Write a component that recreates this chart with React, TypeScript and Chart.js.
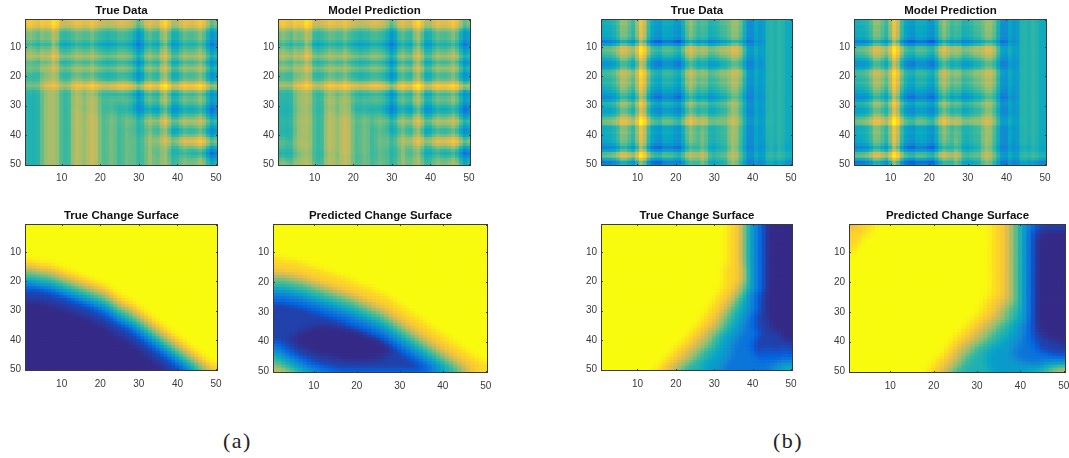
import React, { useEffect, useRef } from "react";
import { Chart, registerables } from "chart.js";

Chart.register(...registerables);

const CELLS = Array.from({ length: 50 }, (_, i) => String(i + 1));
const TICKS = [10, 20, 30, 40, 50];
const PARULA = ["#352a87", "#0363e1", "#1485d4", "#06a7c6", "#38b99e", "#92bf73", "#d9ba56", "#fcce2e", "#f9fb0e"];
const LEVELS = [0, 0.05, 0.19, 0.33, 0.44, 0.55, 0.67, 0.78, 0.89, 1];

// Change surfaces, one run-length row per image row: level x count.
const TRUE_SURFACE_A = [
  "9x50","9x50","9x50","9x50","9x50","9x50","9x50","9x50","9x50","9x50","9x50","9x50",
  "8x3 9x47","8x7 9x43","7x3 8x6 9x41","6x3 7x4 8x4 9x39","5x3 6x4 7x2 8x4 9x37","5x7 6x2 7x2 8x4 9x35",
  "4x5 5x4 6x2 7x2 8x4 9x33","3x3 4x5 5x3 6x2 7x2 8x4 9x31","2x3 3x4 4x3 5x3 6x2 7x2 8x4 9x29",
  "2x7 3x2 4x3 5x3 6x2 7x2 8x3 9x28","1x5 2x4 3x2 4x3 5x3 6x2 7x2 8x2 9x27","1x8 2x3 3x2 4x3 5x3 6x2 7x1 8x2 9x26",
  "1x10 2x3 3x2 4x3 5x3 6x1 7x1 8x2 9x25","1x12 2x3 3x2 4x2 5x3 6x1 7x1 8x3 9x23","0x5 1x9 2x3 3x2 4x2 5x2 6x1 7x1 8x3 9x22",
  "0x8 1x8 2x3 3x2 4x1 5x2 6x1 7x1 8x3 9x21","0x10 1x8 2x3 3x1 4x1 5x2 6x2 7x1 8x2 9x20","0x12 1x7 2x3 3x1 4x1 5x3 6x1 7x1 8x2 9x19",
  "0x14 1x7 2x2 3x1 4x2 5x2 6x1 7x1 8x2 9x18","0x16 1x6 2x2 3x1 4x2 5x2 6x1 7x1 8x2 9x17","0x18 1x5 2x2 3x1 4x2 5x2 6x1 7x1 8x2 9x16",
  "0x19 1x5 2x2 3x2 4x1 5x2 6x1 7x1 8x2 9x15","0x21 1x5 2x2 3x1 4x1 5x2 6x1 7x1 8x2 9x14","0x22 1x5 2x2 3x1 4x1 5x2 6x1 7x1 8x2 9x13",
  "0x23 1x5 2x2 3x1 4x1 5x2 6x1 7x1 8x2 9x12","0x24 1x5 2x2 3x1 4x1 5x2 6x1 7x1 8x2 9x11","0x26 1x4 2x2 3x1 4x1 5x2 6x1 7x1 8x2 9x10",
  "0x27 1x4 2x2 3x1 4x1 5x2 6x1 7x1 8x2 9x9","0x28 1x4 2x2 3x1 4x1 5x2 6x1 7x1 8x2 9x8","0x29 1x4 2x2 3x1 4x1 5x2 6x1 7x1 8x2 9x7",
  "0x30 1x4 2x2 3x1 4x1 5x2 6x1 7x1 8x2 9x6","0x31 1x4 2x2 3x1 4x1 5x2 6x1 7x1 8x2 9x5","0x32 1x4 2x2 3x1 4x1 5x2 6x1 7x1 8x2 9x4",
  "0x33 1x4 2x2 3x1 4x1 5x2 6x1 7x1 8x2 9x3","0x34 1x4 2x2 3x1 4x1 5x2 6x1 7x1 8x2 9x2","0x35 1x4 2x2 3x1 4x1 5x2 6x1 7x1 8x2 9x1",
  "0x36 1x4 2x2 3x1 4x1 5x2 6x1 7x1 8x2","0x37 1x4 2x2 3x1 4x1 5x2 6x1 7x1 8x1",
];

const PRED_SURFACE_A = [
  "9x50","9x50","9x50","9x50","9x50","9x50","9x50","9x50","9x50","9x50","9x50",
  "8x2 9x48","8x6 9x44","8x8 9x42","8x10 9x40","7x2 8x10 9x38","7x6 8x8 9x36","6x4 7x4 8x8 9x34","5x4 6x3 7x3 8x8 9x32",
  "5x7 6x2 7x3 8x7 9x31","4x4 5x5 6x2 7x3 8x7 9x29","4x7 5x4 6x2 7x3 8x7 9x27","3x4 4x5 5x4 6x2 7x3 8x6 9x26",
  "2x4 3x3 4x4 5x4 6x2 7x3 8x6 9x24","2x7 3x2 4x4 5x4 6x2 7x2 8x6 9x23","2x9 3x2 4x4 5x4 6x1 7x3 8x5 9x22",
  "1x4 2x7 3x2 4x4 5x3 6x2 7x2 8x5 9x21","1x7 2x6 3x2 4x4 5x3 6x1 7x3 8x4 9x20","1x9 2x6 3x2 4x3 5x3 6x2 7x2 8x4 9x19",
  "1x11 2x6 3x2 4x3 5x3 6x1 7x2 8x4 9x18","1x13 2x6 3x1 4x3 5x3 6x1 7x2 8x4 9x17","1x15 2x5 3x2 4x3 5x2 6x1 7x2 8x4 9x16",
  "1x17 2x5 3x1 4x3 5x2 6x1 7x2 8x4 9x15","1x18 2x5 3x2 4x2 5x2 6x1 7x2 8x4 9x14","1x9 0x6 1x5 2x5 3x1 4x2 5x2 6x1 7x2 8x4 9x13",
  "1x7 0x12 1x3 2x4 3x1 4x2 5x2 6x1 7x2 8x4 9x12","1x6 0x15 1x2 2x4 3x1 4x2 5x2 6x1 7x2 8x4 9x11","1x5 0x18 1x2 2x3 3x1 4x2 5x2 6x1 7x2 8x4 9x10",
  "1x4 0x21 1x1 2x3 3x1 4x2 5x2 6x1 7x2 8x4 9x9","2x1 1x4 0x21 1x1 2x3 3x1 4x2 5x2 6x1 7x2 8x4 9x8","2x2 1x4 0x21 1x1 2x3 3x1 4x2 5x2 6x1 7x2 8x4 9x7",
  "2x3 1x4 0x21 1x1 2x3 3x1 4x2 5x2 6x1 7x2 8x4 9x6","3x1 2x3 1x4 0x20 1x2 2x3 3x1 4x2 5x2 6x1 7x2 8x4 9x5",
  "4x1 3x1 2x3 1x5 0x16 1x5 2x3 3x1 4x2 5x2 6x1 7x2 8x4 9x4","4x2 3x1 2x3 1x7 0x13 1x6 2x3 3x1 4x2 5x2 6x1 7x2 8x4 9x3",
  "5x1 4x2 3x2 2x3 1x8 0x8 1x9 2x3 3x1 4x2 5x2 6x1 7x2 8x4 9x2","5x2 4x2 3x2 2x3 1x25 2x3 3x1 4x2 5x2 6x1 7x2 8x4 9x1",
  "6x1 5x2 4x2 3x2 2x4 1x24 2x3 3x1 4x2 5x2 6x1 7x2 8x4","6x2 5x2 4x2 3x2 2x6 1x22 2x3 3x1 4x2 5x2 6x1 7x2 8x3",
  "7x3 6x2 5x2 4x2 3x2 2x26 3x2 4x3 5x2 6x1 7x1 8x3 9x1",
];

const TRUE_SURFACE_B = [
  "9x33 8x3 7x1 5x1 4x1 3x1 2x2 1x1 0x7","9x33 8x3 7x1 5x1 4x1 3x1 2x2 1x1 0x7","9x33 8x3 7x1 5x1 4x1 3x1 2x2 1x1 0x7",
  "9x33 8x3 7x1 5x1 4x1 3x1 2x2 1x1 0x7","9x33 8x3 7x1 5x1 4x1 3x1 2x2 1x1 0x7","9x33 8x3 7x1 5x1 4x1 3x1 2x2 1x1 0x7",
  "9x33 8x3 7x1 5x1 4x1 3x1 2x2 1x1 0x7","9x33 8x3 7x1 5x1 4x1 3x1 2x2 1x1 0x7","9x33 8x3 7x1 5x1 4x1 3x1 2x2 1x1 0x7",
  "9x33 8x3 7x1 5x1 4x1 3x1 2x2 1x1 0x7","9x33 8x3 7x1 5x1 4x1 3x1 2x2 1x1 0x7","9x33 8x3 7x1 5x1 4x1 3x1 2x2 1x1 0x7",
  "9x33 8x3 7x1 5x1 4x1 3x1 2x2 1x1 0x7","9x33 8x3 7x1 5x1 4x1 3x1 2x2 1x1 0x7",
  "9x32 8x4 7x1 6x1 4x1 3x1 2x2 1x1 0x7","9x32 8x4 7x1 6x1 4x1 3x1 2x2 1x1 0x7","9x32 8x4 7x1 6x1 4x1 3x1 2x2 1x1 0x7",
  "9x32 8x4 7x1 6x1 4x1 3x1 2x2 1x1 0x7","9x32 8x4 7x1 6x1 4x1 3x1 2x2 1x1 0x7","9x32 8x4 7x1 6x1 4x1 3x1 2x2 1x1 0x7",
  "9x32 8x3 7x1 6x1 5x1 4x1 3x1 2x2 1x1 0x7","9x32 8x3 7x1 6x1 5x1 4x1 3x1 2x2 1x1 0x7","9x31 8x3 7x2 6x1 5x1 4x1 3x1 2x2 1x1 0x7",
  "9x31 8x3 7x1 6x1 5x1 4x1 3x1 2x2 1x2 0x7","9x30 8x3 7x2 6x1 5x1 4x1 3x1 2x2 1x2 0x7","9x30 8x3 7x1 6x1 5x1 4x2 3x1 2x2 1x2 0x7",
  "9x29 8x3 7x2 6x1 5x1 4x2 3x1 2x2 1x2 0x7","9x29 8x3 7x1 6x1 5x2 4x1 3x2 2x2 1x2 0x7","9x28 8x3 7x2 6x1 5x1 4x2 3x2 2x2 1x2 0x7",
  "9x28 8x3 7x1 6x1 5x2 4x2 3x2 2x2 1x2 0x7","9x27 8x3 7x2 6x1 5x1 4x2 3x2 2x2 1x3 0x7","9x27 8x3 7x1 6x1 5x2 4x2 3x2 2x2 1x3 0x7",
  "9x26 8x3 7x2 6x1 5x2 4x2 3x2 2x2 1x3 0x7","9x26 8x3 7x1 6x2 5x1 4x2 3x2 2x3 1x4 0x6","9x25 8x3 7x2 6x1 5x2 4x2 3x2 2x3 1x4 0x6",
  "9x24 8x3 7x2 6x2 5x1 4x2 3x3 2x3 1x4 0x6","9x24 8x2 7x2 6x2 5x2 4x2 3x3 2x4 1x5 0x4","9x23 8x3 7x2 6x1 5x2 4x2 3x3 2x5 1x6 0x3",
  "9x22 8x3 7x2 6x2 5x1 4x2 3x3 2x5 1x7 0x3","9x22 8x2 7x2 6x2 5x2 4x2 3x3 2x5 1x8 0x2","9x21 8x3 7x2 6x2 5x2 4x2 3x3 2x5 1x10",
  "9x20 8x3 7x2 6x2 5x2 4x2 3x3 2x5 1x11","9x19 8x3 7x2 6x2 5x2 4x3 3x3 2x6 1x3 2x1 1x3 2x1 1x2","9x19 8x2 7x2 6x2 5x2 4x3 3x4 2x6 1x2 2x1 1x2 2x1 1x2 2x1 1x1",
  "9x18 8x3 7x2 6x2 5x2 4x3 3x4 2x7 1x2 2x1 1x1 2x1 1x2 2x1 1x1","9x17 8x3 7x2 6x2 5x2 4x3 3x4 2x8 1x1 2x1 1x1 2x1 1x1 2x1 2x3","9x16 8x3 7x2 6x2 5x2 4x3 3x5 2x14",
  "9x16 8x2 7x2 6x2 5x2 4x3 3x5 2x14 3x4","9x15 8x2 7x2 6x2 5x2 4x4 3x5 2x13 3x3 4x2","9x14 8x3 7x2 6x1 5x2 4x5 3x4 2x13 3x4 4x2",
];

const PRED_SURFACE_B = [
  "7x2 8x4 9x27 8x3 7x1 6x1 5x1 4x1 3x1 2x2 1x7","7x1 8x4 9x28 8x3 7x1 6x1 5x1 4x1 3x1 2x2 1x7","8x5 9x28 8x3 7x1 6x1 5x1 4x1 3x1 2x1 1x2 0x6",
  "8x4 9x29 8x3 7x1 6x1 5x1 4x1 3x1 2x1 1x2 0x6","8x3 9x30 8x3 7x1 6x1 5x1 4x1 3x1 2x1 1x1 0x7","8x3 9x30 8x3 7x1 6x1 5x1 4x1 3x1 2x1 1x1 0x7",
  "8x2 9x31 8x3 7x1 6x1 5x1 4x1 3x1 2x1 1x1 0x7","8x2 9x31 8x3 7x1 6x1 5x1 4x1 3x1 2x1 1x1 0x7","8x1 9x32 8x3 7x1 6x1 5x1 4x1 3x1 2x1 1x1 0x7",
  "8x1 9x32 8x3 7x1 6x1 5x1 4x1 3x1 2x1 1x1 0x7","9x33 8x3 7x1 6x1 5x1 4x1 3x1 2x1 1x1 0x7","9x33 8x3 7x1 6x1 5x1 4x1 3x1 2x1 1x1 0x7",
  "9x33 8x3 7x1 6x1 5x1 4x1 3x1 2x1 1x1 0x7","9x33 8x3 7x1 6x1 5x1 4x1 3x1 2x1 1x1 0x7","9x33 8x3 7x1 6x1 5x1 4x1 3x1 2x1 1x1 0x7",
  "9x33 8x3 7x1 6x1 5x1 4x1 3x1 2x1 1x1 0x7","9x33 8x3 7x1 6x1 5x1 4x1 3x1 2x1 1x1 0x7","9x33 8x3 7x1 6x1 5x1 4x1 3x1 2x1 1x1 0x7",
  "9x33 8x3 7x1 6x1 5x1 4x1 3x1 2x1 1x1 0x7","9x33 8x3 7x1 6x1 5x1 4x1 3x1 2x1 1x1 0x7","9x33 8x3 7x1 6x1 5x1 4x1 3x1 2x1 1x1 0x7",
  "9x33 8x3 7x1 6x1 5x1 4x1 3x1 2x1 1x1 0x7","9x33 8x3 7x1 6x1 5x1 4x1 3x1 2x1 1x1 0x7","9x33 8x3 7x1 6x1 5x1 4x1 3x1 2x1 1x1 0x7",
  "9x32 8x3 7x2 6x1 5x1 4x1 3x1 2x1 1x1 0x7","9x32 8x3 7x2 6x1 5x1 4x1 3x1 2x1 1x1 0x7","9x31 8x3 7x2 6x1 5x2 4x1 3x1 2x1 1x1 0x7",
  "9x31 8x3 7x2 6x1 5x2 4x1 3x1 2x1 1x1 0x7","9x31 8x3 7x1 6x1 5x2 4x2 3x1 2x1 1x1 0x7","9x30 8x3 7x2 6x1 5x2 4x2 3x1 2x1 1x1 0x7",
  "9x30 8x3 7x1 6x2 5x2 4x2 3x1 2x1 1x1 0x7","9x29 8x3 7x2 6x2 5x2 4x1 3x2 2x1 1x1 0x7","9x28 8x3 7x2 6x2 5x2 4x2 3x2 2x1 1x1 0x7",
  "9x28 8x2 7x2 6x2 5x2 4x2 3x2 2x2 1x1 0x7","9x27 8x3 7x2 6x2 5x2 4x2 3x2 2x2 1x1 0x7","9x26 8x3 7x2 6x2 5x2 4x3 3x2 2x2 1x2 0x6",
  "9x26 8x2 7x2 6x2 5x2 4x3 3x3 2x2 1x2 0x6","9x25 8x3 7x2 6x2 5x2 4x3 3x3 2x2 1x3 0x5","9x24 8x3 7x2 6x2 5x2 4x3 3x3 2x3 1x4 0x4",
  "9x24 8x2 7x2 6x2 5x2 4x3 3x4 2x4 1x5 0x2","9x23 8x2 7x2 6x2 5x3 4x3 3x4 2x4 1x6 0x1","9x23 8x2 7x1 6x2 5x2 4x3 3x5 2x5 1x7",
  "9x22 8x2 7x2 6x2 5x2 4x3 3x5 2x6 1x6","9x22 8x2 7x1 6x2 5x2 4x3 3x6 2x8 1x4","9x21 8x2 7x2 6x1 5x2 4x4 3x6 2x12",
  "9x20 8x3 7x2 6x1 5x2 4x4 3x7 2x11","9x20 8x2 7x2 6x1 5x2 4x5 3x9 2x4 3x5","9x19 8x3 7x1 6x2 5x2 4x5 3x13 4x3 5x2",
  "9x19 8x2 7x2 6x1 5x2 4x7 3x10 4x3 5x2 6x2","9x18 8x2 7x2 6x1 5x2 4x8 3x8 4x4 5x2 6x3",
];

// Data panels: column and row profiles read for each region of the surface.
const COLS_A_HIGH = [.05,.1,.05,0,.1,.05,.05,.2,.12,-.05,-.05,-.03,0,.05,.03,0,0,.08,0,-.03,-.05,-.08,-.05,-.05,0,0,-.02,-.05,-.1,-.25,-.15,0,.03,-.03,-.07,.08,.17,.02,-.13,-.1,-.02,.05,0,0,.02,.1,.02,-.1,-.25,-.15];
const ROWS_A_HIGH = [.2,.2,.17,.02,-.05,-.05,-.03,-.08,-.17,-.07,-.03,0,.1,.02,-.1,-.02,.08,.02,-.08,-.05,-.03,.12,.3,.22,0,-.1,-.02,0,-.05,-.12,-.18,-.15,-.05,0,.13,.05,-.02,-.1,-.08,0,.15,.22,.15,0,-.1,-.2,-.12,-.02,.02,.05];
const COLS_A_LOW = [-.12,-.12,-.13,-.12,0,.07,.1,.1,.07,-.05,-.08,-.08,.08,.14,.12,.03,.13,.16,.14,.02,-.05,-.02,.03,0,-.08,-.04,.02,-.02,0,-.1,-.05,0,.1,0,0,.05,.1,0,-.1,-.05,0,.05,0,0,0,.1,0,-.1,-.2,0];
const ROWS_A_LOW = [0,0,0,0,0,0,0,0,0,0,0,0,0,0,0,0,0,0,0,0,.02,.05,.12,.05,0,0,0,0,0,0,0,0,0,0,0,0,0,0,0,0,0,0,0,0,0,0,0,0,0,0];
const COLS_B_HIGH = [-.1,-.08,-.08,-.05,0,.12,.1,.05,-.05,.1,.32,.2,-.02,-.12,-.15,-.18,-.08,-.1,-.1,-.15,-.2,-.08,.05,.13,.05,-.02,.03,.02,-.08,-.05,-.03,.02,.02,.05,.12,.12,.08,-.05,-.2,-.2,-.1,-.2,-.18,-.05,-.05,-.1,-.03,-.07,-.12,-.12];
const ROWS_B_HIGH = [-.02,0,-.04,-.02,-.05,-.03,-.05,-.25,-.08,.12,.12,.08,.03,-.03,-.12,-.12,-.08,.08,.08,.05,0,.06,0,-.02,-.05,-.1,-.17,-.08,.05,-.02,-.08,-.07,-.02,.1,.14,.16,-.07,-.03,0,-.05,-.03,-.05,-.08,-.2,-.1,.1,.15,-.02,-.25,-.15];
const COLS_B_LOW = [-.05,-.04,-.04,-.03,0,.06,.05,.03,-.03,.05,.15,.1,-.01,-.06,-.08,-.09,-.04,-.05,-.05,-.08,-.1,-.04,.03,.07,.08,.1,.25,.1,-.05,-.1,-.05,-.05,-.05,.1,.15,.1,-.03,-.12,-.25,-.25,-.1,-.2,-.18,-.05,-.05,-.1,-.03,-.07,-.12,-.12];
const ROWS_B_LOW = [0,0,0,0,0,0,0,0,0,0,0,0,0,0,0,0,0,0,0,0,0,0,0,0,0,0,0,0,0,0,0,0,0,0,0,0,0,0,0,0,0,0,0,0,0,0,0,0,0,0];

const parseRuns = (row: string, table: number[]): number[] => {
  const out: number[] = [];
  row.split(" ").forEach((run) => {
    const [level, count] = run.split("x").map(Number);
    for (let i = 0; i < count; i++) out.push(table[level]);
  });
  while (out.length < 50) out.push(out[out.length - 1]);
  return out.slice(0, 50);
};

// The source image was resampled, so neighbouring cells bleed together.
const soften = (g: number[][], centre: number): number[][] =>
  g.map((row, r) =>
    row.map((_, c) => {
      let sum = 0;
      let weight = 0;
      for (let dr = -1; dr <= 1; dr++) {
        for (let dc = -1; dc <= 1; dc++) {
          const rr = g[r + dr];
          if (!rr || rr[c + dc] === undefined) continue;
          const w = (dr === 0 ? centre : 1) * (dc === 0 ? centre : 1);
          sum += rr[c + dc] * w;
          weight += w;
        }
      }
      return sum / weight;
    })
  );

const UNIT = [0, 1, 2, 3, 4, 5, 6, 7, 8, 9].map((k) => k / 9);

const blendData = (base: number, gain: number, mask: string[], ch: number[], rh: number[], cl: number[], rl: number[]): number[][] =>
  soften(
    mask.map((row, r) =>
      parseRuns(row, UNIT).map((s, c) => base + gain * (s * (rh[r] + ch[c]) + (1 - s) * (rl[r] + cl[c])))
    ),
    5
  );

const surface = (rows: string[]): number[][] => soften(soften(rows.map((row) => parseRuns(row, LEVELS)), 2), 2);

const colorOf = (v: number): string => {
  const t = Math.min(1, Math.max(0, v)) * (PARULA.length - 1);
  const i = Math.min(PARULA.length - 2, Math.floor(t));
  const f = t - i;
  const hex = (h: string, k: number) => parseInt(h.slice(1 + k * 2, 3 + k * 2), 16);
  const ch = [0, 1, 2].map((k) => Math.round(hex(PARULA[i], k) * (1 - f) + hex(PARULA[i + 1], k) * f));
  return `rgb(${ch[0]},${ch[1]},${ch[2]})`;
};

const PANELS = [
  { title: "True Data", box: [25, 19, 218, 166], grid: () => blendData(0.57, 1, TRUE_SURFACE_A, COLS_A_HIGH, ROWS_A_HIGH, COLS_A_LOW, ROWS_A_LOW) },
  { title: "Model Prediction", box: [278, 19, 471, 166], grid: () => blendData(0.57, 1, PRED_SURFACE_A, COLS_A_HIGH, ROWS_A_HIGH, COLS_A_LOW, ROWS_A_LOW) },
  { title: "True Data", box: [601, 19, 793, 166], grid: () => blendData(0.53, 1.12, TRUE_SURFACE_B, COLS_B_HIGH, ROWS_B_HIGH, COLS_B_LOW, ROWS_B_LOW) },
  { title: "Model Prediction", box: [854, 19, 1047, 166], grid: () => blendData(0.53, 1.12, PRED_SURFACE_B, COLS_B_HIGH, ROWS_B_HIGH, COLS_B_LOW, ROWS_B_LOW) },
  { title: "True Change Surface", box: [25, 224, 218, 371], grid: () => surface(TRUE_SURFACE_A) },
  { title: "Predicted Change Surface", box: [273, 224, 488, 373], grid: () => surface(PRED_SURFACE_A) },
  { title: "True Change Surface", box: [601, 224, 793, 371], grid: () => surface(TRUE_SURFACE_B) },
  { title: "Predicted Change Surface", box: [849, 224, 1066, 373], grid: () => surface(PRED_SURFACE_B) },
];

const CAPTIONS = [
  { text: "(a)", x: 223 },
  { text: "(b)", x: 773 },
];

const PAD_LEFT = 26;
const PAD_TOP = 19;
const PAD_RIGHT = 14;
const PAD_BOTTOM = 20;
const AXIS_COLOR = "#3a3a3a";

const framePlugin = {
  id: "frame",
  afterDatasetsDraw(chart: any) {
    const { ctx, chartArea: a, scales } = chart;
    const len = 2;
    ctx.save();
    ctx.strokeStyle = AXIS_COLOR;
    ctx.lineWidth = 1;
    ctx.strokeRect(Math.round(a.left) + 0.5, Math.round(a.top) + 0.5, Math.round(a.width) - 1, Math.round(a.height) - 1);
    ctx.beginPath();
    scales.x.ticks.forEach((t: any) => {
      const x = Math.round(scales.x.getPixelForValue(t.value)) + 0.5;
      ctx.moveTo(x, a.top); ctx.lineTo(x, a.top + len);
      ctx.moveTo(x, a.bottom); ctx.lineTo(x, a.bottom - len);
    });
    scales.y.ticks.forEach((t: any) => {
      const y = Math.round(scales.y.getPixelForValue(t.value)) + 0.5;
      ctx.moveTo(a.left, y); ctx.lineTo(a.left + len, y);
      ctx.moveTo(a.right, y); ctx.lineTo(a.right - len, y);
    });
    ctx.stroke();
    ctx.restore();
  },
};

function Panel({ panel }: { panel: (typeof PANELS)[number] }) {
  const ref = useRef<HTMLCanvasElement>(null);
  const [l, t, r, b] = panel.box;
  useEffect(() => {
    const grid = panel.grid();
    const chart = new Chart(ref.current as HTMLCanvasElement, {
      type: "bar",
      data: {
        labels: CELLS,
        datasets: grid.map((row, i) => ({
          label: `row ${i + 1}`,
          data: row.map(() => [i + 0.5, i + 1.5]),
          backgroundColor: row.map(colorOf),
          borderWidth: 0,
          inflateAmount: 0.5,
          grouped: false,
          barPercentage: 1,
          categoryPercentage: 1,
        })),
      } as any,
      options: {
        animation: false,
        responsive: false,
        devicePixelRatio: 1,
        events: [],
        layout: { padding: { right: PAD_RIGHT } },
        plugins: {
          legend: { display: false },
          tooltip: { enabled: false },
          title: {
            display: true,
            text: panel.title,
            fullSize: false,
            color: "#111",
            font: { family: "'Liberation Sans'", size: 11.5, weight: "bold", lineHeight: 1.1 },
            padding: { top: 4.5, bottom: PAD_TOP - 4.5 - 11.5 * 1.1 },
          },
        },
        scales: {
          x: {
            type: "category",
            grid: { display: false, drawTicks: false },
            border: { display: false },
            afterBuildTicks: (s: any) => {
              s.ticks = s.ticks.filter((k: any) => TICKS.includes(k.value + 1));
            },
            afterFit: (s: any) => { s.height = PAD_BOTTOM; },
            ticks: { autoSkip: false, maxRotation: 0, padding: t > 200 ? 7 : 6, color: AXIS_COLOR, font: { family: "'Liberation Sans'", size: 10 } },
          },
          y: {
            type: "linear",
            reverse: true,
            min: 0.5,
            max: 50.5,
            grid: { display: false, drawTicks: false },
            border: { display: false },
            afterBuildTicks: (s: any) => { s.ticks = TICKS.map((value) => ({ value })); },
            afterFit: (s: any) => { s.width = PAD_LEFT; },
            ticks: { padding: 4, color: AXIS_COLOR, font: { family: "'Liberation Sans'", size: 10 }, callback: (v: any) => String(v) },
          },
        },
      } as any,
      plugins: [framePlugin],
    });
    return () => chart.destroy();
  }, [panel]);
  return (
    <canvas
      ref={ref}
      width={r - l + PAD_LEFT + PAD_RIGHT}
      height={b - t + PAD_TOP + PAD_BOTTOM}
      style={{ position: "absolute", left: l - PAD_LEFT, top: t - PAD_TOP, display: "block", filter: "blur(0.35px)" }}
    />
  );
}

export default function App() {
  return (
    <div style={{ position: "fixed", left: 0, top: 0, width: 1069, height: 458, overflow: "hidden", background: "#fff" }}>
      {PANELS.map((p, i) => <Panel key={i} panel={p} />)}
      {CAPTIONS.map((c) => (
        <div key={c.text} style={{ position: "absolute", left: c.x, top: 428, fontFamily: "'Liberation Serif'", fontSize: 22, letterSpacing: 1.5, color: "#222" }}>
          {c.text}
        </div>
      ))}
    </div>
  );
}
